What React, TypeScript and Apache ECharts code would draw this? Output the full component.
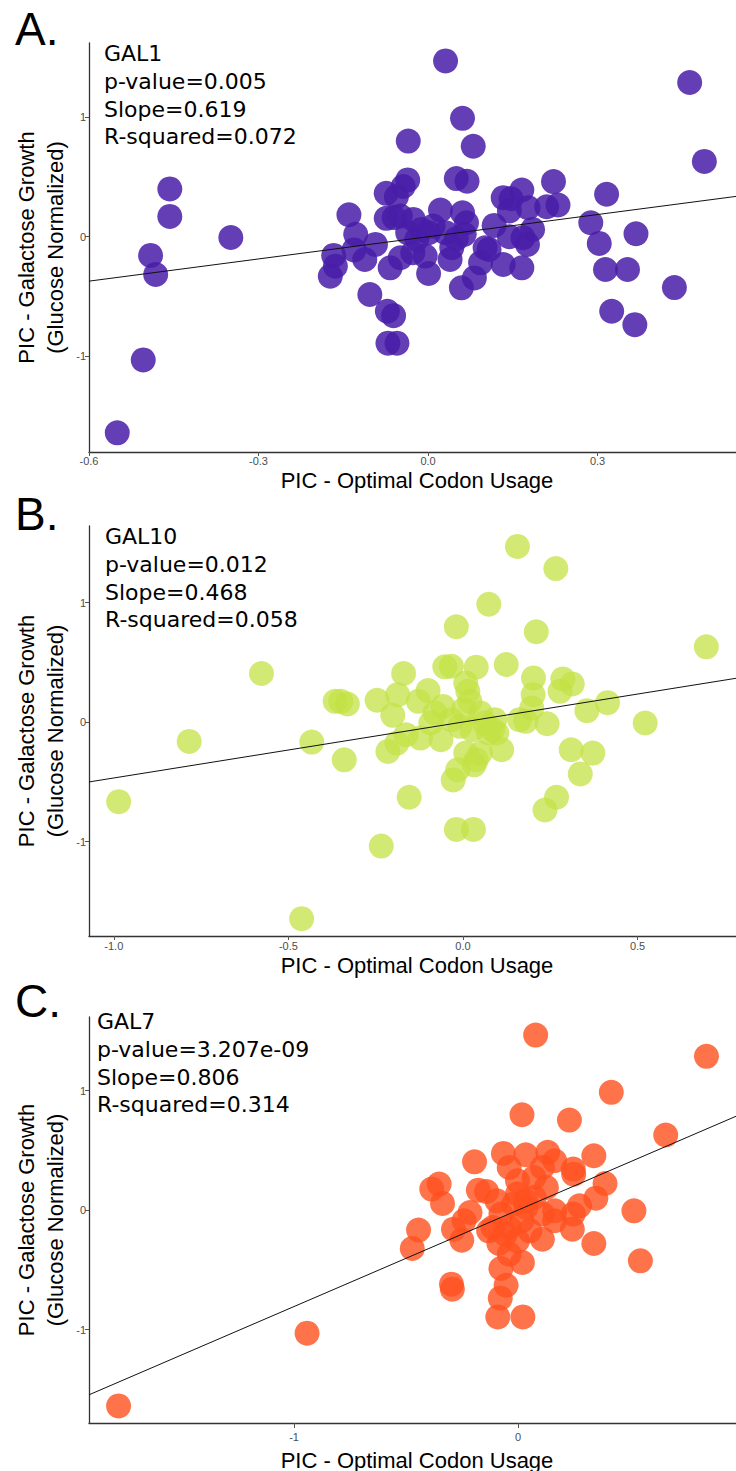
import React, { useEffect, useRef } from "react";
import * as echarts from "echarts";

// ---------- DATA ----------
const gal1X = [0.031,0.463,0.489,0.061,0.080,-0.035,-0.457,-0.457,-0.491,-0.482,
  -0.349,-0.504,-0.550,-0.140,-0.074,-0.036,-0.044,-0.056,-0.074,-0.060,
  -0.026,-0.128,-0.093,-0.131,-0.167,-0.164,-0.173,-0.112,-0.067,-0.049,
  -0.036,-0.012,0.001,-0.027,-0.005,0.001,0.022,0.050,0.069,0.061,
  0.068,0.064,0.042,0.050,-0.103,-0.072,-0.061,-0.071,-0.055,0.059,
  0.082,0.093,0.108,0.117,0.133,0.147,0.144,0.166,0.177,0.185,
  0.168,0.176,0.133,0.166,0.144,0.222,0.210,0.230,0.288,0.303,
  0.316,0.368,0.314,0.353,0.325,0.366,0.436,0.009,0.031,-0.020,
  -0.049,0.039,0.101];
const gal1Y = [1.47,1.29,0.63,0.99,0.757,0.80,0.40,0.17,-0.156,-0.316,
  -0.006,-1.03,-1.64,0.184,0.363,0.475,0.42,0.335,0.154,0.16,
  0.145,0.02,-0.064,-0.11,-0.156,-0.246,-0.33,-0.19,-0.26,-0.176,
  0.034,0.06,0.034,-0.134,-0.162,-0.307,0.223,0.486,0.464,0.20,
  0.117,0.02,-0.092,-0.017,-0.483,-0.623,-0.66,-0.89,-0.89,-0.427,
  -0.344,-0.218,-0.106,0.095,0.327,0.318,0.215,0.391,0.243,0.061,
  -0.008,-0.064,-0.232,-0.26,0.0,0.461,0.251,0.265,0.117,-0.056,
  0.355,0.025,-0.274,-0.274,-0.623,-0.735,-0.425,0.089,0.034,-0.022,
  0.173,-0.19,-0.092];

const gal10X = [0.156,0.266,0.074,-0.019,0.210,0.697,-0.577,-0.170,-0.052,-0.033,
  0.038,0.124,0.202,0.286,0.313,0.278,0.201,-0.187,-0.246,-0.366,
  -0.350,-0.331,-0.100,-0.128,-0.201,0.008,0.014,0.414,0.355,0.522,
  0.241,0.162,0.180,0.197,0.091,0.050,-0.057,-0.080,-0.092,-0.033,
  -0.009,0.026,0.073,0.097,-0.063,-0.122,-0.163,-0.189,-0.215,-0.433,
  -0.784,-0.340,0.111,0.310,0.372,0.336,0.008,0.038,0.032,-0.015,
  -0.028,-0.154,0.268,0.235,-0.986,-0.019,0.030,-0.234,-0.462,0.085,
  0.061,0.002,0.020,0.050];
const gal10Y = [1.469,1.284,0.985,0.797,0.755,0.629,0.406,0.406,0.462,0.467,
  0.459,0.481,0.369,0.361,0.319,0.257,0.229,0.229,0.182,0.173,
  0.173,0.151,0.263,0.173,0.056,0.327,0.257,0.162,0.095,-0.008,
  -0.014,0.020,0.006,0.117,0.020,0.076,0.131,0.076,-0.008,0.020,
  -0.036,-0.064,-0.092,-0.092,-0.148,-0.134,-0.106,-0.176,-0.246,-0.168,
  -0.162,-0.316,-0.232,-0.232,-0.260,-0.434,-0.260,-0.316,-0.358,-0.400,
  -0.484,-0.629,-0.629,-0.736,-0.666,-0.898,-0.898,-1.038,-1.645,-0.064,
  -0.008,0.104,0.173,-0.26];

const gal7X = [0.079,0.842,0.417,0.018,0.230,0.660,-0.194,-0.065,0.035,0.133,
  0.339,0.164,0.247,0.249,0.389,0.348,-0.352,-0.385,-0.337,-0.177,
  -0.140,-0.039,-0.002,0.072,0.127,0.518,0.275,0.247,0.164,0.109,
  0.035,-0.076,-0.039,-0.112,-0.214,-0.241,-0.288,-0.251,-0.444,-0.472,
  0.243,0.339,0.547,0.109,-0.085,-0.039,0.020,-0.076,-0.053,-0.297,
  -0.293,-0.079,-0.090,0.022,-0.942,-1.784,-0.002,0.035,-0.020,0.017,
  0.053,-0.002,0.164,0.072,-0.094,0.109,-0.131,-0.057];
const gal7Y = [1.464,1.286,0.985,0.798,0.753,0.628,0.404,0.474,0.463,0.483,
  0.455,0.413,0.343,0.301,0.223,0.100,0.218,0.176,0.056,0.167,
  0.156,0.357,0.245,0.273,0.190,-0.006,0.036,-0.033,-0.089,-0.033,
  0.022,-0.033,-0.145,-0.145,-0.020,-0.089,-0.159,-0.251,-0.167,-0.321,
  -0.159,-0.279,-0.424,-0.243,-0.279,-0.368,-0.438,-0.488,-0.628,-0.619,
  -0.661,-0.736,-0.893,-0.893,-1.029,-1.637,0.134,0.078,0.050,-0.089,
  -0.173,-0.257,-0.006,0.106,0.078,0.357,-0.173,-0.201];

const panelLetters = ["A.", "B.", "C."];
const geneNames = ["GAL1", "GAL10", "GAL7"];
const pValues = ["0.005", "0.012", "3.207e-09"];
const slopeLabels = ["0.619", "0.468", "0.806"];
const rSquared = ["0.072", "0.058", "0.314"];
const slopes = [0.619, 0.468, 0.806];
const intercepts = [0, 0, 0];

const xTicksA = [-0.6, -0.3, 0, 0.3];
const xTicksB = [-1.0, -0.5, 0, 0.5];
const xTicksC = [-1, 0];
const yTicks = [-1, 0, 1];

const xTitle = "PIC - Optimal Codon Usage";
const yTitle = "PIC - Galactose Growth\n(Glucose Normalized)";

// ---------- LAYOUT ----------
const panels = [
  { xs: gal1X, ys: gal1Y, xTicks: xTicksA, dec: 1, top: 43, height: 409, xMin: -0.6, xMax: 0.545, yMin: -1.8, yMax: 1.62,
    color: "rgb(72,28,168)", opacity: 0.85, textLeft: 104, textTop: 40, tickLen: 4, labelMargin: 3, titleY: 480, letterY: 52 },
  { xs: gal10X, ys: gal10Y, xTicks: xTicksB, dec: 1, top: 526, height: 410, xMin: -1.071, xMax: 0.782, yMin: -1.79, yMax: 1.64,
    color: "rgb(195,225,70)", opacity: 0.75, textLeft: 105, textTop: 523, tickLen: 4, labelMargin: 4, titleY: 965, letterY: 537 },
  { xs: gal7X, ys: gal7Y, xTicks: xTicksC, dec: 0, top: 1017, height: 406, xMin: -1.916, xMax: 0.974, yMin: -1.78, yMax: 1.615,
    color: "rgb(255,80,30)", opacity: 0.8, textLeft: 97, textTop: 1008, tickLen: 5, labelMargin: 8, titleY: 1460, letterY: 1024 },
];

const GRID_LEFT = 89;
const GRID_WIDTH = 656;

export default function App() {
  const ref = useRef<HTMLDivElement>(null);
  useEffect(() => {
    if (!ref.current) return;
    const chart = echarts.init(ref.current, undefined, { renderer: "svg" });
    const grids: any[] = [];
    const xAxes: any[] = [];
    const yAxes: any[] = [];
    const series: any[] = [];
    const graphics: any[] = [];
    panels.forEach((p, i) => {
      grids.push({ left: GRID_LEFT, top: p.top, width: GRID_WIDTH, height: p.height, containLabel: false });
      xAxes.push({
        type: "value", gridIndex: i, min: p.xMin, max: p.xMax,
        axisLine: { show: true, onZero: false, lineStyle: { color: "#333", width: 1.3 } },
        axisTick: { show: true, length: p.tickLen, customValues: p.xTicks, lineStyle: { color: "#555" } },
        axisLabel: { customValues: p.xTicks, margin: p.labelMargin, color: "#4d4d4d", fontSize: 11, fontFamily: "Liberation Sans",
          formatter: (v: number) => v.toFixed(p.dec) },
        splitLine: { show: false },
      });
      yAxes.push({
        type: "value", gridIndex: i, min: p.yMin, max: p.yMax,
        axisLine: { show: true, onZero: false, lineStyle: { color: "#333", width: 1.3 } },
        axisTick: { show: true, length: 4, customValues: yTicks, lineStyle: { color: "#555" } },
        axisLabel: { customValues: yTicks, margin: 3, color: "#4d4d4d", fontSize: 11, fontFamily: "Liberation Sans",
          formatter: (v: number) => String(Math.round(v)) },
        splitLine: { show: false },
      });
      series.push({
        type: "scatter", xAxisIndex: i, yAxisIndex: i, symbol: "circle", symbolSize: 25,
        data: p.xs.map((x, k) => [x, p.ys[k]]),
        itemStyle: { color: p.color, opacity: p.opacity },
        z: 2, silent: true,
      });
      series.push({
        type: "line", xAxisIndex: i, yAxisIndex: i, symbol: "none", silent: true, z: 3,
        data: [[p.xMin, slopes[i] * p.xMin + intercepts[i]], [p.xMax, slopes[i] * p.xMax + intercepts[i]]],
        lineStyle: { color: "#111", width: 1 },
      });
      graphics.push({
        type: "text", x: 15, y: p.letterY,
        style: { text: panelLetters[i], fontSize: 46, fontFamily: "Liberation Sans", fill: "#000", align: "left", verticalAlign: "bottom" },
      });
      graphics.push({
        type: "text", x: p.textLeft, y: p.textTop,
        style: {
          text: `${geneNames[i]}\np-value=${pValues[i]}\nSlope=${slopeLabels[i]}\nR-squared=${rSquared[i]}`,
          fontSize: 22, lineHeight: 27.7, fontFamily: "DejaVu Sans", fill: "#000", align: "left", verticalAlign: "top",
        },
      });
      graphics.push({
        type: "text", x: 417, y: p.titleY,
        style: { text: xTitle, fontSize: 22, fontFamily: "Liberation Sans", fill: "#000", align: "center", verticalAlign: "middle" },
      });
      graphics.push({
        type: "text", x: 41, y: p.top + p.height / 2, rotation: Math.PI / 2,
        style: { text: yTitle, fontSize: 22, lineHeight: 29, fontFamily: "Liberation Sans", fill: "#000", align: "center", verticalAlign: "middle" },
      });
    });
    chart.setOption({
      animation: false,
      backgroundColor: "#fff",
      grid: grids,
      xAxis: xAxes,
      yAxis: yAxes,
      series,
      graphic: graphics,
    });
    return () => chart.dispose();
  }, []);
  return <div ref={ref} style={{ position: "absolute", left: 0, top: 0, width: 736, height: 1471 }} />;
}
